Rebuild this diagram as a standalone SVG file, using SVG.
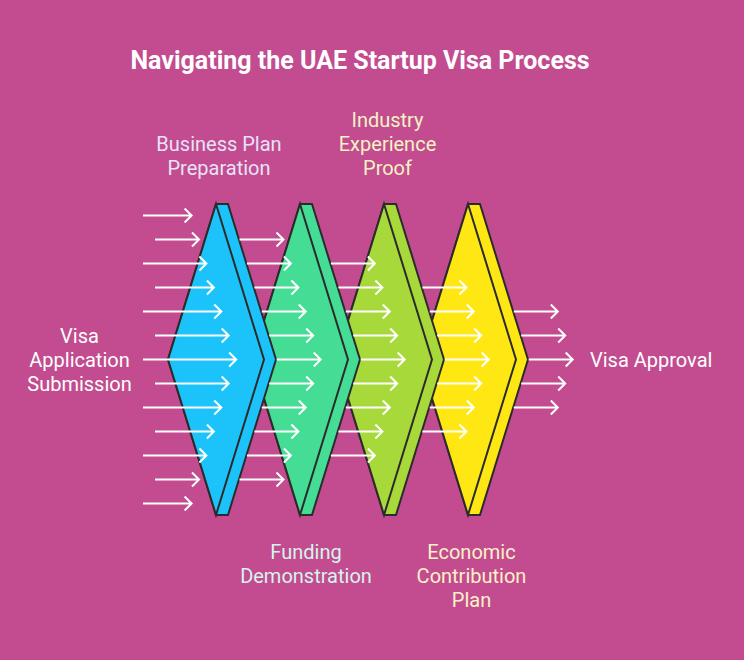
<svg xmlns="http://www.w3.org/2000/svg" width="744" height="660" viewBox="0 0 744 660">
<style>
.bg{fill:#c24c8f}
.sh{stroke:#2b2b2b;stroke-width:2;stroke-linejoin:miter}
.ar{fill:none;stroke:#ffffff;stroke-width:2;stroke-linecap:butt;stroke-linejoin:miter}
.t{font-family:Roboto,"Liberation Sans",sans-serif;font-size:20px;text-anchor:middle}
.title{font-family:Roboto,"Liberation Sans",sans-serif;font-size:25px;font-weight:bold;fill:#ffffff;text-anchor:middle}
</style>
<rect class="bg" x="0" y="0" width="744" height="660"/>
<text class="title" x="360" y="69">Navigating the UAE Startup Visa Process</text>
<g id="economic-contribution-plan">
<polygon class="sh" fill="#ffe713" points="468,204 480,204 528,359.5 480,515 468,515 420,359.5"/>
<polygon class="sh" fill="#ffe713" points="468,204 516,359.5 468,515 420,359.5"/>
<text class="t" fill="#fdf1c8" x="471.5" y="559">Economic</text>
<text class="t" fill="#fdf1c8" x="471.5" y="583">Contribution</text>
<text class="t" fill="#fdf1c8" x="471.5" y="607">Plan</text>
</g>
<g id="industry-experience-proof">
<polygon class="sh" fill="#a7d93a" points="384,204 396,204 444,359.5 396,515 384,515 336,359.5"/>
<polygon class="sh" fill="#a7d93a" points="384,204 432,359.5 384,515 336,359.5"/>
<text class="t" fill="#f5f2c4" x="387.5" y="127">Industry</text>
<text class="t" fill="#f5f2c4" x="387.5" y="151">Experience</text>
<text class="t" fill="#f5f2c4" x="387.5" y="175">Proof</text>
</g>
<g id="funding-demonstration">
<polygon class="sh" fill="#45dc95" points="300,204 312,204 360,359.5 312,515 300,515 252,359.5"/>
<polygon class="sh" fill="#45dc95" points="300,204 348,359.5 300,515 252,359.5"/>
<text class="t" fill="#d6f3ee" x="306" y="559">Funding</text>
<text class="t" fill="#d6f3ee" x="306" y="583">Demonstration</text>
</g>
<g id="business-plan-preparation">
<polygon class="sh" fill="#1cc3fa" points="216,204 228,204 276,359.5 228,515 216,515 168,359.5"/>
<polygon class="sh" fill="#1cc3fa" points="216,204 264,359.5 216,515 168,359.5"/>
<text class="t" fill="#e8e2f8" x="219" y="151">Business Plan</text>
<text class="t" fill="#e8e2f8" x="219" y="175">Preparation</text>
</g>
<g id="visa-application-submission">
<text class="t" fill="#ffffff" x="79.5" y="343">Visa</text>
<text class="t" fill="#ffffff" x="79.5" y="367">Application</text>
<text class="t" fill="#ffffff" x="79.5" y="391">Submission</text>
</g>
<g id="visa-approval">
<text class="t" fill="#ffffff" x="590" y="367" style="text-anchor:start">Visa Approval</text>
</g>
<g id="connectors" class="ar">
<path d="M143 215.5H191.6M184.6 208.5L191.6 215.5L184.6 222.5"/>
<path d="M155 239.5H199M192 232.5L199 239.5L192 246.5"/>
<path d="M143 263.5H206.4M199.4 256.5L206.4 263.5L199.4 270.5"/>
<path d="M155 287.5H213.9M206.9 280.5L213.9 287.5L206.9 294.5"/>
<path d="M143 311.5H221.3M214.3 304.5L221.3 311.5L214.3 318.5"/>
<path d="M155 335.5H228.7M221.7 328.5L228.7 335.5L221.7 342.5"/>
<path d="M143 359.5H236.2M229.2 352.5L236.2 359.5L229.2 366.5"/>
<path d="M155 383.5H228.7M221.7 376.5L228.7 383.5L221.7 390.5"/>
<path d="M143 407.5H221.3M214.3 400.5L221.3 407.5L214.3 414.5"/>
<path d="M155 431.5H213.9M206.9 424.5L213.9 431.5L206.9 438.5"/>
<path d="M143 455.5H206.4M199.4 448.5L206.4 455.5L199.4 462.5"/>
<path d="M155 479.5H199M192 472.5L199 479.5L192 486.5"/>
<path d="M143 503.5H191.6M184.6 496.5L191.6 503.5L184.6 510.5"/>

<path d="M239.5 239.5H283.5M276.5 232.5L283.5 239.5L276.5 246.5"/>
<path d="M246.9 263.5H290.9M283.9 256.5L290.9 263.5L283.9 270.5"/>
<path d="M254.4 287.5H298.4M291.4 280.5L298.4 287.5L291.4 294.5"/>
<path d="M261.8 311.5H305.8M298.8 304.5L305.8 311.5L298.8 318.5"/>
<path d="M269.2 335.5H313.2M306.2 328.5L313.2 335.5L306.2 342.5"/>
<path d="M276.7 359.5H320.7M313.7 352.5L320.7 359.5L313.7 366.5"/>
<path d="M269.2 383.5H313.2M306.2 376.5L313.2 383.5L306.2 390.5"/>
<path d="M261.8 407.5H305.8M298.8 400.5L305.8 407.5L298.8 414.5"/>
<path d="M254.4 431.5H298.4M291.4 424.5L298.4 431.5L291.4 438.5"/>
<path d="M246.9 455.5H290.9M283.9 448.5L290.9 455.5L283.9 462.5"/>
<path d="M239.5 479.5H283.5M276.5 472.5L283.5 479.5L276.5 486.5"/>

<path d="M330.9 263.5H374.9M367.9 256.5L374.9 263.5L367.9 270.5"/>
<path d="M338.4 287.5H382.4M375.4 280.5L382.4 287.5L375.4 294.5"/>
<path d="M345.8 311.5H389.8M382.8 304.5L389.8 311.5L382.8 318.5"/>
<path d="M353.2 335.5H397.2M390.2 328.5L397.2 335.5L390.2 342.5"/>
<path d="M360.7 359.5H404.7M397.7 352.5L404.7 359.5L397.7 366.5"/>
<path d="M353.2 383.5H397.2M390.2 376.5L397.2 383.5L390.2 390.5"/>
<path d="M345.8 407.5H389.8M382.8 400.5L389.8 407.5L382.8 414.5"/>
<path d="M338.4 431.5H382.4M375.4 424.5L382.4 431.5L375.4 438.5"/>
<path d="M330.9 455.5H374.9M367.9 448.5L374.9 455.5L367.9 462.5"/>

<path d="M422.4 287.5H466.4M459.4 280.5L466.4 287.5L459.4 294.5"/>
<path d="M429.8 311.5H473.8M466.8 304.5L473.8 311.5L466.8 318.5"/>
<path d="M437.2 335.5H481.2M474.2 328.5L481.2 335.5L474.2 342.5"/>
<path d="M444.7 359.5H488.7M481.7 352.5L488.7 359.5L481.7 366.5"/>
<path d="M437.2 383.5H481.2M474.2 376.5L481.2 383.5L474.2 390.5"/>
<path d="M429.8 407.5H473.8M466.8 400.5L473.8 407.5L466.8 414.5"/>
<path d="M422.4 431.5H466.4M459.4 424.5L466.4 431.5L459.4 438.5"/>

<path d="M513.8 311.5H557.8M550.8 304.5L557.8 311.5L550.8 318.5"/>
<path d="M521.2 335.5H565.2M558.2 328.5L565.2 335.5L558.2 342.5"/>
<path d="M528.7 359.5H572.7M565.7 352.5L572.7 359.5L565.7 366.5"/>
<path d="M521.2 383.5H565.2M558.2 376.5L565.2 383.5L558.2 390.5"/>
<path d="M513.8 407.5H557.8M550.8 400.5L557.8 407.5L550.8 414.5"/>
</g>
</svg>
